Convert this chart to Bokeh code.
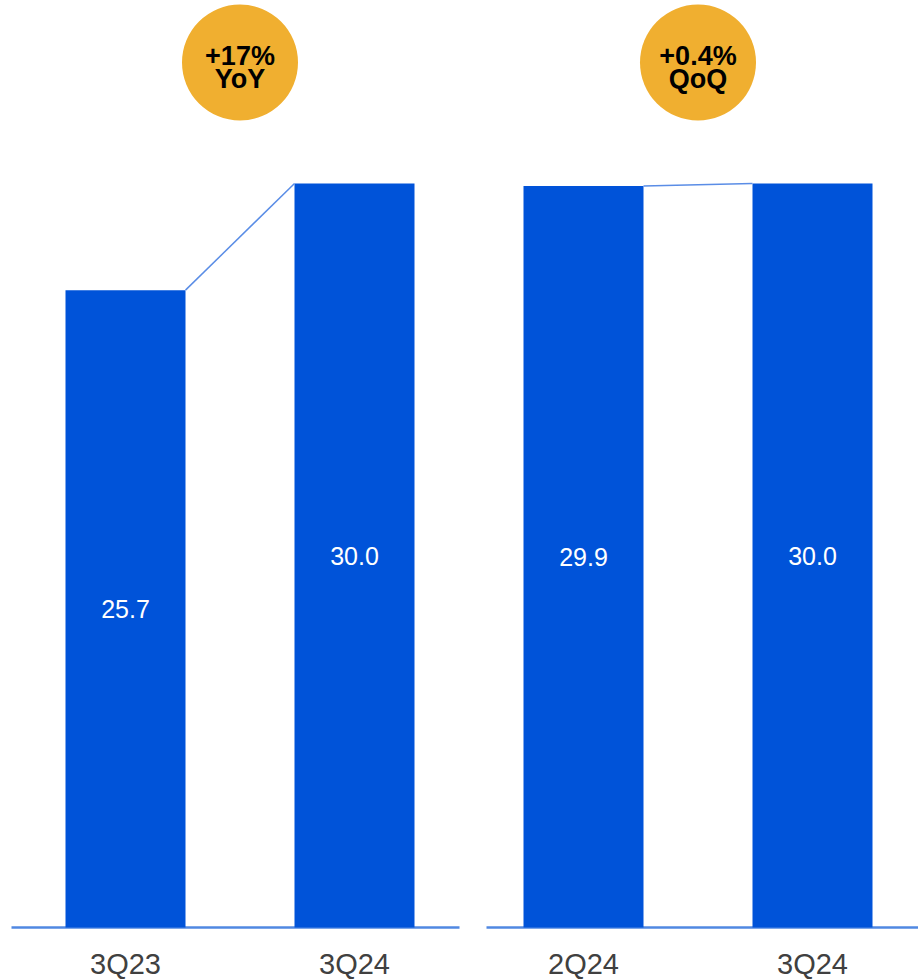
from bokeh.plotting import figure
from bokeh.models import Range1d, ColumnDataSource
from bokeh.core.properties import value
from bokeh.embed import file_html
from bokeh.resources import INLINE

# ---- data ----
yoy_categories = ["3Q23", "3Q24"]
yoy_values = [25.7, 30.0]
qoq_categories = ["2Q24", "3Q24"]
qoq_values = [29.9, 30.0]
badge_line1 = ["+17%", "+0.4%"]
badge_line2 = ["YoY", "QoQ"]

# ---- layout (pixel-based geometry) ----
W, H = 918, 979
BASE_PX = 927          # baseline pixel row from top
TOP_PX = 183           # pixel row for value 30.0
k = (BASE_PX - TOP_PX) / 30.0   # px per unit
y_start = -(H - BASE_PX) / k
y_end = BASE_PX / k

def py(px_from_top):
    return (BASE_PX - px_from_top) / k

BAR_W = 120
panels = [
    dict(cats=yoy_categories, vals=yoy_values, first=125, gap=229, base=(11, 459)),
    dict(cats=qoq_categories, vals=qoq_values, first=583, gap=229, base=(486, 918)),
]

BAR_COLOR = "#0053D9"
LINE_COLOR = "#5A8DE6"
BADGE_COLOR = "#F0AF30"

p = figure(width=W, height=H, x_range=Range1d(0, W), y_range=Range1d(y_start, y_end),
           output_backend="svg", toolbar_location=None, min_border=0,
           x_axis_type=None, y_axis_type=None)
p.grid.visible = False
p.outline_line_color = None
p.background_fill_color = "white"
p.border_fill_color = "white"

for i, pn in enumerate(panels):
    xs = [pn["first"] + j * pn["gap"] for j in range(len(pn["vals"]))]
    src = ColumnDataSource(dict(x=xs, top=pn["vals"], mid=[v / 2 for v in pn["vals"]],
                                lab=[f"{v:.1f}" for v in pn["vals"]], cat=pn["cats"]))
    # baseline
    p.segment(x0=pn["base"][0], y0=0, x1=pn["base"][1], y1=0, line_color="#5088E2", line_width=2.5)
    # bars
    p.vbar(x="x", top="top", bottom=0, width=BAR_W, source=src, fill_color=BAR_COLOR, line_color=None)
    # connector
    p.segment(x0=xs[0] + BAR_W / 2, y0=pn["vals"][0], x1=xs[1] - BAR_W / 2, y1=pn["vals"][1],
              line_color=LINE_COLOR, line_width=1.5)
    # value labels
    p.text(x="x", y="mid", text="lab", source=src, text_color="white",
           text_font=value("Liberation Sans"), text_font_size="25px",
           text_align="center", text_baseline="middle")
    # category labels
    p.text(x="x", y=py(963), text="cat", source=src, text_color="#404040",
           text_font=value("Liberation Sans"), text_font_size="29px",
           text_align="center", text_baseline="middle")
    # badge
    cx = (xs[0] + xs[1]) / 2
    p.scatter(x=[cx], y=[py(62)], size=116, marker="circle", fill_color=BADGE_COLOR, line_color=None)
    p.text(x=[cx], y=[py(55)], text=[badge_line1[i]], text_color="black",
           text_font=value("Liberation Sans"), text_font_style="bold", text_font_size="27px",
           text_align="center", text_baseline="middle")
    p.text(x=[cx], y=[py(78)], text=[badge_line2[i]], text_color="black",
           text_font=value("Liberation Sans"), text_font_style="bold", text_font_size="27px",
           text_align="center", text_baseline="middle")

open("out.html", "w").write(file_html(p, INLINE))
